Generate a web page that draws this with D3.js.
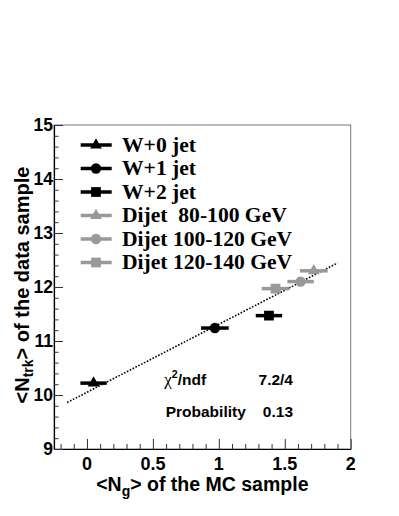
<!DOCTYPE html>
<html>
<head>
<meta charset="utf-8">
<script src="https://cdn.jsdelivr.net/npm/d3@7"></script>
<style>
  body { margin: 0; background: #fff; }
</style>
</head>
<body>
<div class="canvas"></div>
<script>
// samples, <N_g> from MC (with error) and <N_trk> from data
const sampleNames = ['W+0 jet', 'W+1 jet', 'W+2 jet', 'Dijet\u00a0\u00a080-100 GeV', 'Dijet 100-120 GeV', 'Dijet 120-140 GeV'];
const sampleShapes = ['triangle', 'circle', 'square', 'triangle', 'circle', 'square'];
const sampleColors = ['#000', '#000', '#000', '#999', '#999', '#999'];
const ngValues = [0.05, 0.97, 1.38, 1.72, 1.62, 1.43];
const ngErrors = [0.10, 0.105, 0.10, 0.105, 0.10, 0.105];
const ntrkValues = [10.22, 11.24, 11.47, 12.30, 12.10, 11.97];

// linear fit  <N_trk> = p0 + p1 * <N_g>
const fitParams = [10.05, 1.26];
const fitRange = [-0.15, 1.9];

const statNames = ['ndf', 'Probability'];
const statValues = ['7.2/4', '0.13'];

const xTicks = [0, 0.5, 1, 1.5, 2];
const yTicks = [9, 10, 11, 12, 13, 14, 15];

const dims = { width: 399, height: 516 };
const frame = { left: 54, right: 350.7, top: 125, bottom: 449 };
const sans = 'Liberation Sans, Arial, sans-serif';
const serif = 'Liberation Serif, Times New Roman, serif';

const svg = d3.select('.canvas')
  .append('svg')
  .attr('width', dims.width)
  .attr('height', dims.height);

const x = d3.scaleLinear().domain([-0.25, 2]).range([frame.left, frame.right]);
const y = d3.scaleLinear().domain([9, 15]).range([frame.bottom, frame.top]);

// frame
svg.append('rect')
  .attr('x', frame.left)
  .attr('y', frame.top)
  .attr('width', frame.right - frame.left)
  .attr('height', frame.bottom - frame.top)
  .attr('fill', 'none')
  .attr('stroke', '#777')
  .attr('stroke-width', 1);

// axes, ticks pointing inward
const xMinor = d3.range(-2, 21).map(d => d / 10).filter(d => Math.abs(d * 2 - Math.round(d * 2)) > 1e-6);
const yMinor = d3.range(45, 76).map(d => d / 5).filter(d => !Number.isInteger(d));

svg.append('g')
  .attr('transform', `translate(0, ${frame.bottom})`)
  .call(d3.axisBottom(x).tickValues(xTicks).tickSize(-10).tickSizeOuter(0).tickFormat(''));
svg.append('g')
  .attr('transform', `translate(0, ${frame.bottom})`)
  .call(d3.axisBottom(x).tickValues(xMinor).tickSize(-5).tickSizeOuter(0).tickFormat(''))
  .select('.domain').remove();

svg.append('g')
  .attr('transform', `translate(${frame.left}, 0)`)
  .call(d3.axisLeft(y).tickValues(yTicks).tickSize(-9).tickSizeOuter(0).tickFormat(''));
svg.append('g')
  .attr('transform', `translate(${frame.left}, 0)`)
  .call(d3.axisLeft(y).tickValues(yMinor).tickSize(-4.5).tickSizeOuter(0).tickFormat(''))
  .select('.domain').remove();

svg.selectAll('.tick line').attr('stroke', '#333');
svg.selectAll('.domain').attr('stroke', '#000').attr('stroke-width', 1.2);

// tick labels
svg.append('g').selectAll('text')
  .data(xTicks)
  .enter().append('text')
    .attr('x', d => x(d))
    .attr('y', 470)
    .attr('text-anchor', 'middle')
    .attr('font-family', sans)
    .attr('font-weight', 'bold')
    .attr('font-size', 18)
    .text(d => d3.format('')(d));

svg.append('g').selectAll('text')
  .data(yTicks)
  .enter().append('text')
    .attr('x', 53)
    .attr('y', d => y(d) + 6.4)
    .attr('text-anchor', 'end')
    .attr('font-family', sans)
    .attr('font-weight', 'bold')
    .attr('font-size', 17.5)
    .text(d => d);

// axis titles
const xTitle = svg.append('text')
  .attr('x', (frame.left + frame.right) / 2)
  .attr('y', 491)
  .attr('text-anchor', 'middle')
  .attr('font-family', sans)
  .attr('font-weight', 'bold')
  .attr('font-size', 19.5);
xTitle.append('tspan').text('<N');
xTitle.append('tspan').attr('font-size', 14).attr('dy', 5).text('g');
xTitle.append('tspan').attr('dy', -5).text('> of the MC sample');

const yTitle = svg.append('text')
  .attr('transform', `translate(29, 285) rotate(-90)`)
  .attr('text-anchor', 'middle')
  .attr('font-family', sans)
  .attr('font-weight', 'bold')
  .attr('font-size', 20);
yTitle.append('tspan').text('<N');
yTitle.append('tspan').attr('font-size', 14).attr('dy', 4).text('trk');
yTitle.append('tspan').attr('dy', -4).text('> of the data sample');

// fit line
svg.append('line')
  .attr('x1', x(fitRange[0]))
  .attr('y1', y(fitParams[0] + fitParams[1] * fitRange[0]))
  .attr('x2', x(fitRange[1]))
  .attr('y2', y(fitParams[0] + fitParams[1] * fitRange[1]))
  .attr('stroke', '#000')
  .attr('stroke-width', 1.6)
  .attr('stroke-dasharray', '1.6,1.6');

const symbolType = { triangle: d3.symbolTriangle, circle: d3.symbolCircle, square: d3.symbolSquare };
const symbolSize = { triangle: 60, circle: 85, square: 95 };
const markerPath = s => d3.symbol().type(symbolType[s]).size(symbolSize[s])();

const points = sampleNames.map((name, i) => ({
  name, shape: sampleShapes[i], color: sampleColors[i],
  ng: ngValues[i], err: ngErrors[i], ntrk: ntrkValues[i]
}));

// error bars + markers
const pts = svg.append('g').selectAll('g')
  .data(points)
  .enter().append('g');

pts.append('line')
  .attr('x1', d => x(d.ng - d.err))
  .attr('x2', d => x(d.ng + d.err))
  .attr('y1', d => y(d.ntrk))
  .attr('y2', d => y(d.ntrk))
  .attr('stroke', d => d.color)
  .attr('stroke-width', 3.5);

pts.append('path')
  .attr('transform', d => `translate(${x(d.ng)}, ${y(d.ntrk)})`)
  .attr('d', d => markerPath(d.shape))
  .attr('fill', d => d.color);

// legend
const legend = svg.append('g');
const rows = legend.selectAll('g')
  .data(points)
  .enter().append('g')
    .attr('transform', (d, i) => `translate(0, ${145 + i * 23.5})`);

rows.append('line')
  .attr('x1', 80.7).attr('x2', 111.7)
  .attr('stroke', d => d.color)
  .attr('stroke-width', 3.5);

rows.append('path')
  .attr('transform', 'translate(96, 0)')
  .attr('d', d => markerPath(d.shape))
  .attr('fill', d => d.color);

rows.append('text')
  .attr('transform', 'translate(122, 6.5) scale(1.08, 1)')
  .attr('font-family', serif)
  .attr('font-weight', 'bold')
  .attr('font-size', 20)
  .text(d => d.name);

// fit statistics
const stats = svg.append('g')
  .attr('font-family', sans)
  .attr('font-weight', 'bold')
  .attr('font-size', 15.5);

const chi = stats.append('text').attr('x', 164.3).attr('y', 385);
chi.append('tspan').attr('font-family', serif).attr('font-weight', 'normal').attr('font-size', 17).text('\u03c7');
chi.append('tspan').attr('font-size', 10.5).attr('dy', -7).text('2');
chi.append('tspan').attr('dy', 7).text('/' + statNames[0]);

stats.append('text').attr('x', 165.7).attr('y', 416.7).text(statNames[1]);

stats.selectAll('.val')
  .data(statValues)
  .enter().append('text')
    .attr('class', 'val')
    .attr('x', 293)
    .attr('y', (d, i) => i === 0 ? 385 : 416.7)
    .attr('text-anchor', 'end')
    .text(d => d);
</script>
</body>
</html>
